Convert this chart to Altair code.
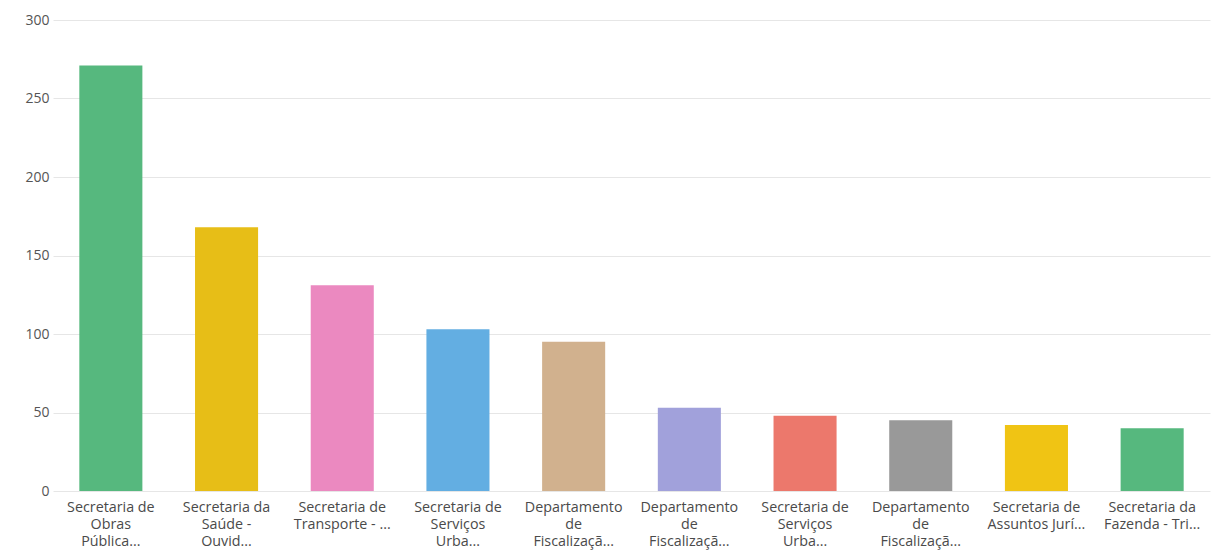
import altair as alt
import pandas as pd

labels = [
    "Secretaria de|Obras|Pública...",
    "Secretaria da|Saúde -|Ouvid...",
    "Secretaria de|Transporte - ...",
    "Secretaria de|Serviços|Urba...",
    "Departamento|de|Fiscalizaçã...",
    "Departamento|de|Fiscalizaçã...",
    "Secretaria de|Serviços|Urba...",
    "Departamento|de|Fiscalizaçã...",
    "Secretaria de|Assuntos Jurí...",
    "Secretaria da|Fazenda - Tri...",
]
values = [271, 168, 131, 103, 95, 53, 48, 45, 42, 40]
colors = ["#56B87E", "#E7BE17", "#EB89C0", "#63AEE2", "#D1B18E",
          "#A1A1DB", "#EC786C", "#999999", "#F0C414", "#56B87E"]

df = pd.DataFrame({"idx": list(range(len(values))), "value": values, "color": colors})

label_arr = "[" + ",".join("'" + l + "'" for l in labels) + "]"

chart = alt.Chart(df).mark_bar().encode(
    x=alt.X("idx:O", title=None,
            scale=alt.Scale(paddingInner=0.455, paddingOuter=0.2275),
            axis=alt.Axis(labelAngle=0, domain=False, ticks=False, grid=False,
                          labelExpr=f"split({label_arr}[datum.value], '|')",
                          labelPadding=9, labelLineHeight=17,
                          labelFontSize=14.3, labelColor="#4a4a4a",
                          labelFont="Open Sans", labelLimit=200)),
    y=alt.Y("value:Q", title=None,
            scale=alt.Scale(domain=[0, 300], nice=False),
            axis=alt.Axis(values=[0, 50, 100, 150, 200, 250, 300],
                          domain=False, ticks=False, labelPadding=4,
                          labelFontSize=14, labelColor="#555555",
                          labelFont="Open Sans",
                          gridColor="#e6e6e6", gridWidth=1)),
    color=alt.Color("color:N", scale=None, legend=None),
).properties(
    width=1157, height=471,
    background="white",
    autosize=alt.AutoSizeParams(type="none"),
    padding={"left": 53, "top": 20, "right": 1, "bottom": 66},
).configure_view(stroke=None)

chart.save("out.html", embed_options={"renderer": "svg", "actions": False})
